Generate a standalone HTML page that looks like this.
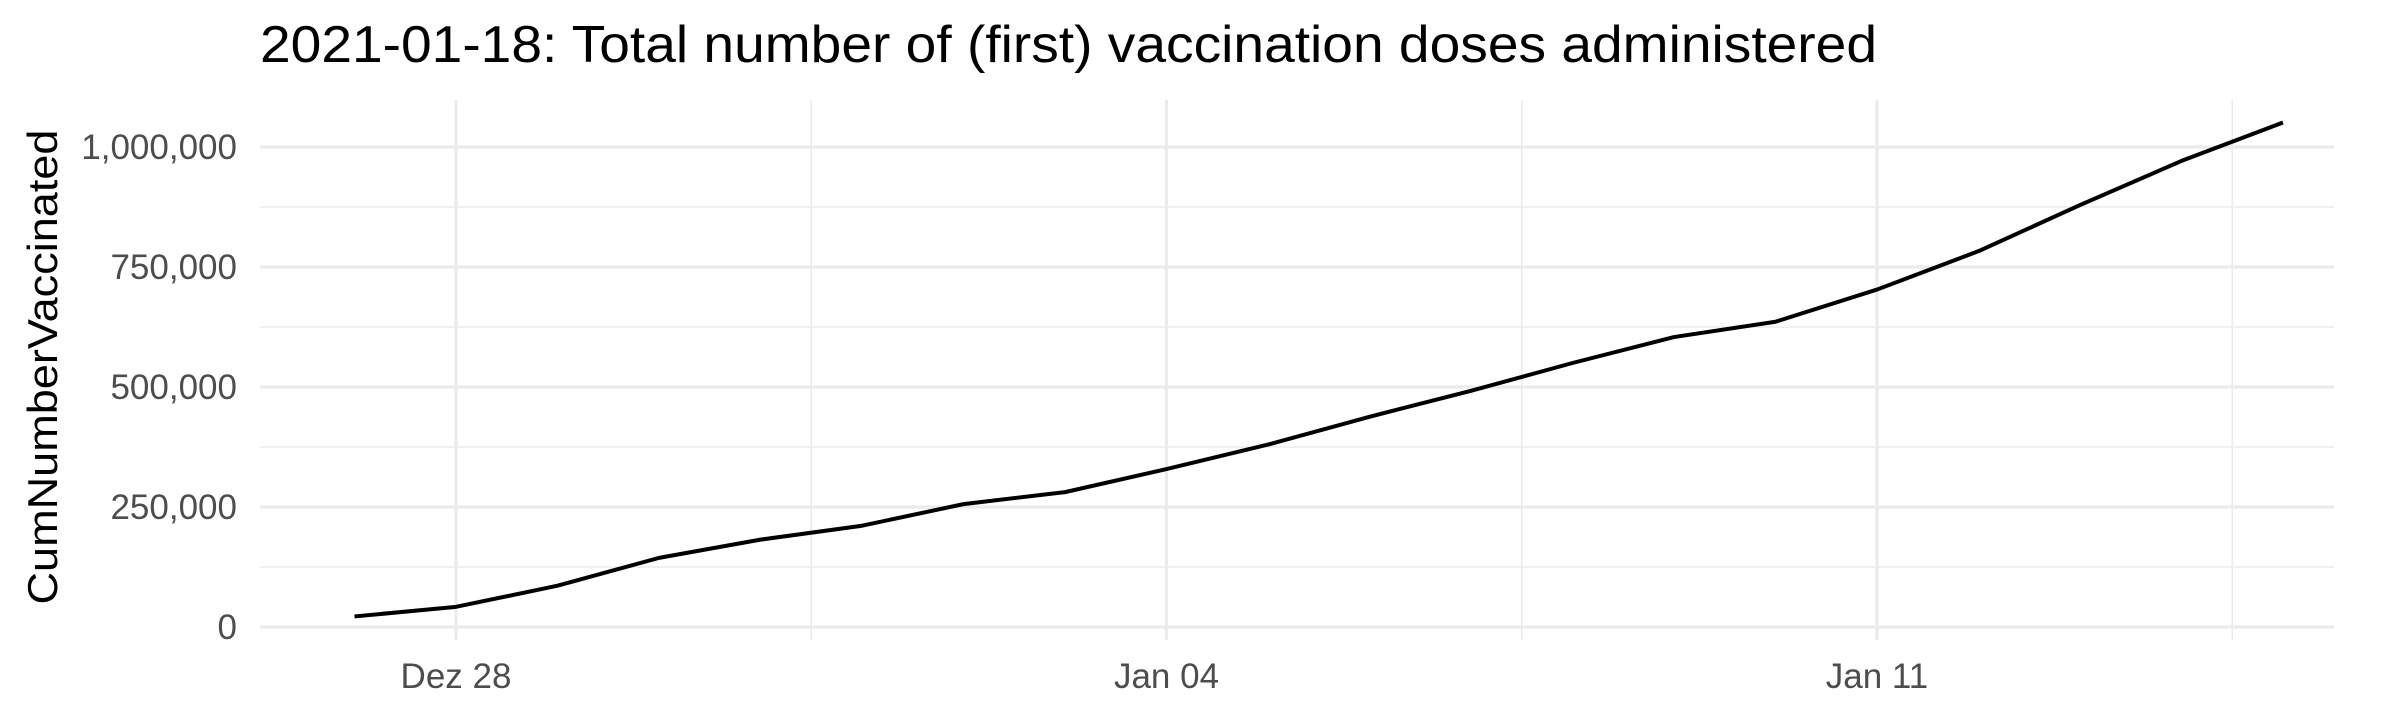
<!DOCTYPE html>
<html><head><meta charset="utf-8"><style>
html,body{margin:0;padding:0;background:#fff;}
svg{display:block;font-family:"Liberation Sans",sans-serif;}
</style></head><body>
<svg id="chart" width="2400" height="720" viewBox="0 0 2400 720" xmlns="http://www.w3.org/2000/svg">
<rect width="2400" height="720" fill="#fff"/>
<text x="260" y="62" font-size="52" fill="#000" textLength="1617" lengthAdjust="spacingAndGlyphs">2021-01-18: Total number of (first) vaccination doses administered</text>
<text transform="translate(57,367) rotate(-90)" text-anchor="middle" font-size="42" fill="#000" textLength="475" lengthAdjust="spacingAndGlyphs">CumNumberVaccinated</text>
<g id="grid"></g><g id="ticks"></g><g id="series"></g>
</svg>
<script>
const dates = ["Dez 27","Dez 28","Dez 29","Dez 30","Dez 31","Jan 01","Jan 02","Jan 03","Jan 04","Jan 05","Jan 06","Jan 07","Jan 08","Jan 09","Jan 10","Jan 11","Jan 12","Jan 13","Jan 14","Jan 15"];
const cumVaccinated = [22000,42000,86000,144000,182000,211000,256000,281000,329000,380000,438000,492000,550000,604000,636000,703000,783000,879000,971000,1051000];
const yTicks = [0,250000,500000,750000,1000000];
const yTickLabels = ["0","250,000","500,000","750,000","1,000,000"];
const xTickIdx = [1,8,15];
const xTickLabels = ["Dez 28","Jan 04","Jan 11"];

const NS="http://www.w3.org/2000/svg";
const L=260,R=2334,T=100,B=640;
const x0=456, dayW=101.5;
const xScale=i=>x0+(i-1)*dayW;
const yScale=v=>627-v*(627-147)/1000000;
const grid=document.getElementById('grid'), ticks=document.getElementById('ticks'), series=document.getElementById('series');
function line(p,x1,y1,x2,y2,w){const l=document.createElementNS(NS,'line');l.setAttribute('x1',x1);l.setAttribute('y1',y1);l.setAttribute('x2',x2);l.setAttribute('y2',y2);l.setAttribute('stroke','#ebebeb');l.setAttribute('stroke-width',w);p.appendChild(l);return l;}
for(let i=0;i<yTicks.length-1;i++){const v=(yTicks[i]+yTicks[i+1])/2;const l=line(grid,L,yScale(v),R,yScale(v),1.6);

}
for(let i=0;i<xTickIdx.length;i++){const xi=xTickIdx[i]+3.5;const l=line(grid,xScale(xi),T,xScale(xi),B,1.6);

}
yTicks.forEach((v,i)=>{const l=line(grid,L,yScale(v),R,yScale(v),3.2);


const t=document.createElementNS(NS,'text');t.setAttribute('x',237);t.setAttribute('y',yScale(v)+12);t.setAttribute('text-anchor','end');t.setAttribute('font-size','35');t.setAttribute('fill','#4d4d4d');t.textContent=yTickLabels[i];


ticks.appendChild(t);});
xTickIdx.forEach((d,i)=>{const l=line(grid,xScale(d),T,xScale(d),B,3.2);


const t=document.createElementNS(NS,'text');t.setAttribute('x',xScale(d));t.setAttribute('y',688);t.setAttribute('text-anchor','middle');t.setAttribute('font-size','35');t.setAttribute('fill','#4d4d4d');t.textContent=xTickLabels[i];


ticks.appendChild(t);});
const p=document.createElementNS(NS,'polyline');
p.setAttribute('points',cumVaccinated.map((v,i)=>xScale(i)+','+yScale(v)).join(' '));
p.setAttribute('fill','none');p.setAttribute('stroke','#000');p.setAttribute('stroke-width','4');p.setAttribute('stroke-linejoin','round');


series.appendChild(p);
</script>
</body></html>
